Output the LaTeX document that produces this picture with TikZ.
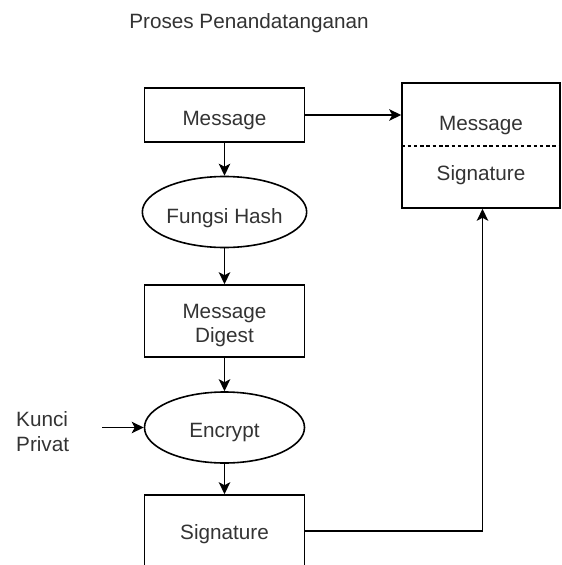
\documentclass[tikz,border=0pt]{standalone}
\usepackage{fontspec}
\setmainfont{Liberation Sans}
\usetikzlibrary{shapes.geometric,arrows.meta}
\definecolor{txtc}{HTML}{333333}
\begin{document}
\begin{tikzpicture}[x=1pt,y=-1pt,
  every node/.style={font=\fontsize{20.7}{24.7}\selectfont, text=txtc},
  box/.style={draw=black, line width=1.6pt, rectangle, minimum width=160pt, minimum height=72pt, inner sep=0pt},
  oval/.style={draw=black, line width=1.6pt, ellipse, minimum width=160pt, minimum height=71pt, inner sep=0pt},
  arr/.style={draw=black, line width=1.6pt, -{Stealth[length=12pt,width=11.5pt,inset=3pt]}},
  lbl/.style={inner sep=0pt}
]
\useasboundingbox (0,0) rectangle (562,565);

\node[lbl, anchor=base] (title) at (249,28) {Proses Penandatanganan};

\node[box, minimum height=54pt, text height=21.4pt, text depth=0pt] (msg) at (224.5,115) {Message};
\node[oval, text height=22pt, text depth=0pt] (hash) at (224.5,212) {Fungsi Hash};
\node[box, align=center, text height=43.4pt, text depth=0pt] (digest) at (224.5,321) {Message\\Digest};
\node[oval, text height=20pt, text depth=0pt] (enc) at (224.5,427.5) {Encrypt};
\node[box, text height=16.6pt, text depth=0pt] (sig) at (224.5,531) {Signature};

\node[lbl, align=left, anchor=west] (kunci) at (16,431.65) {Kunci\\Privat};
\coordinate (kp) at (102,427.5);

\node[box, minimum width=158pt, minimum height=125pt] (combo) at (481,145.5) {};
\draw[line width=1.6pt, dash pattern=on 3.5pt off 2.8pt] (combo.west |- 0,146) -- (combo.east |- 0,146);
\node[lbl, anchor=base] (cmsg) at (481,130) {Message};
\node[lbl, anchor=base] (csig) at (481,180) {Signature};

\draw[arr] (msg) -- (hash);
\draw[arr] (hash) -- (digest);
\draw[arr] (digest) -- (enc);
\draw[arr] (enc) -- (sig);
\draw[arr] (kp) -- (enc.west);
\draw[arr] (msg.east) -- (msg.east -| combo.west);
\draw[arr] (sig.east) -| ([xshift=1.5pt]combo.south);
\end{tikzpicture}
\end{document}
